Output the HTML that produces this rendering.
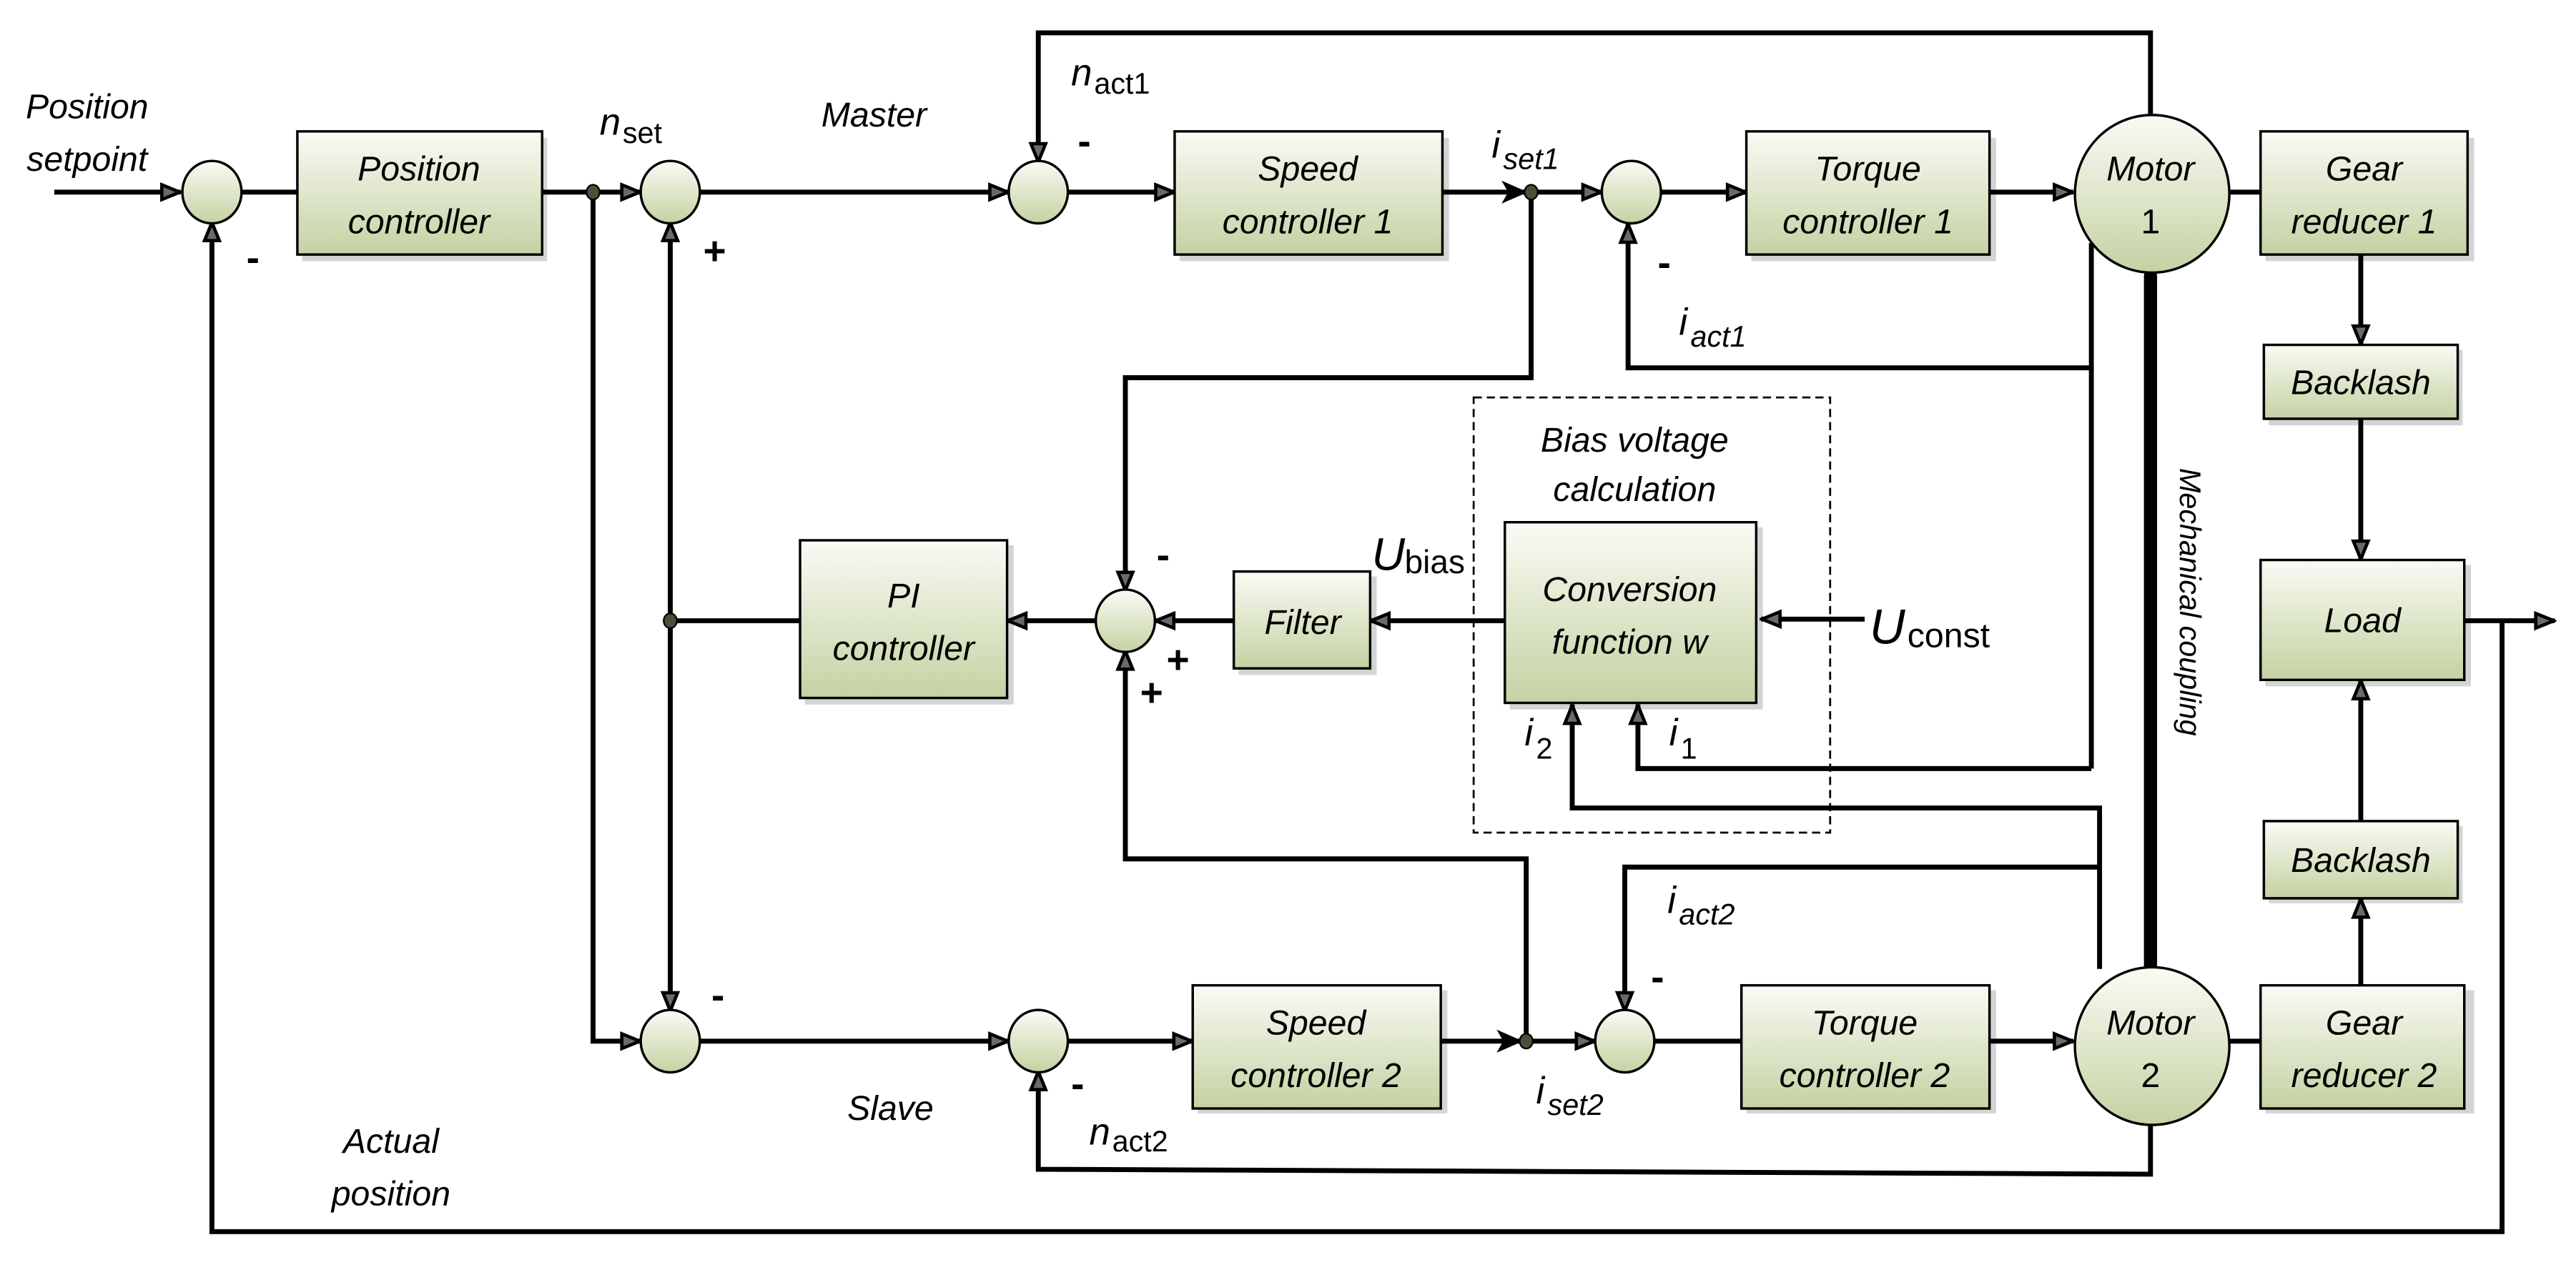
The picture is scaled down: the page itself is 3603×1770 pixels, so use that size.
<!DOCTYPE html>
<html><head><meta charset="utf-8"><style>
html,body{margin:0;padding:0;background:#fff;}
svg{display:block;}
text{font-family:"Liberation Sans",sans-serif;font-style:italic;fill:#000;}
.u{font-style:normal;}
</style></head><body>
<svg width="3603" height="1770" viewBox="0 0 1568 770.3" preserveAspectRatio="none" xmlns="http://www.w3.org/2000/svg">
<defs>
<linearGradient id="g" x1="0" y1="0" x2="0" y2="1"><stop offset="0" stop-color="#fafbf5"/><stop offset="1" stop-color="#c4d2a2"/></linearGradient>
<marker id="a" viewBox="0 0 14 12" refX="13" refY="6" markerWidth="14" markerHeight="12" markerUnits="userSpaceOnUse" orient="auto"><path d="M1.5,1.5 L12.5,6 L1.5,10.5 Z" fill="#6a6a6a" stroke="#000" stroke-width="2"/></marker>
<marker id="f" viewBox="0 0 16 14" refX="15" refY="7" markerWidth="16" markerHeight="14" markerUnits="userSpaceOnUse" orient="auto"><path d="M0,0 L16,7 L0,14 L4,7 Z" fill="#000"/></marker>
</defs>
<rect width="1568" height="771" fill="#fff"/>
<g fill="#d4d4d4">
<rect x="184" y="84" width="149" height="75"/><rect x="718" y="84" width="164" height="75"/><rect x="1066" y="84" width="149" height="75"/><rect x="1379" y="84" width="127" height="75"/>
<rect x="1381" y="213" width="118" height="46"/><rect x="1379" y="344" width="125" height="74"/><rect x="1381" y="503" width="118" height="47"/>
<rect x="490" y="332" width="127" height="97"/><rect x="754" y="351" width="84" height="60"/><rect x="919" y="321" width="154" height="111"/>
<rect x="729" y="603" width="152" height="75"/><rect x="1063" y="603" width="152" height="75"/><rect x="1379" y="603" width="127" height="75"/>
</g>
<g stroke="#000" stroke-width="3" fill="none">
<line x1="33" y1="117" x2="110" y2="117" marker-end="url(#a)"/>
<line x1="147" y1="117" x2="181" y2="117"/>
<line x1="330" y1="117" x2="390" y2="117" marker-end="url(#a)"/>
<line x1="426" y1="117" x2="614" y2="117" marker-end="url(#a)"/>
<line x1="650" y1="117" x2="715" y2="117" marker-end="url(#a)"/>
<line x1="878" y1="117" x2="929" y2="117" marker-end="url(#f)"/>
<line x1="932" y1="117" x2="975" y2="117" marker-end="url(#a)"/>
<line x1="1011" y1="117" x2="1063" y2="117" marker-end="url(#a)"/>
<line x1="1211" y1="117" x2="1262" y2="117" marker-end="url(#a)"/>
<line x1="1357" y1="117" x2="1376" y2="117"/>
<polyline points="1309,70 1309,20 632,20 632,99" marker-end="url(#a)"/>
<polyline points="1500,378 1555,378" marker-end="url(#a)"/>
<polyline points="1523,378 1523,750 129,750 129,135" marker-end="url(#a)"/>
<polyline points="361,117 361,634 390,634" marker-end="url(#a)"/>
<line x1="408" y1="378" x2="408" y2="135" marker-end="url(#a)"/>
<line x1="408" y1="378" x2="408" y2="616" marker-end="url(#a)"/>
<line x1="408" y1="378" x2="487" y2="378"/>
<line x1="667" y1="378" x2="613" y2="378" marker-end="url(#a)"/>
<line x1="751" y1="378" x2="703" y2="378" marker-end="url(#a)"/>
<line x1="916" y1="378" x2="834" y2="378" marker-end="url(#a)"/>
<line x1="1135" y1="377" x2="1072" y2="377" marker-end="url(#a)"/>
<polyline points="932,117 932,230 685,230 685,360" marker-end="url(#a)"/>
<polyline points="929,634 929,523 685,523 685,396" marker-end="url(#a)"/>
<polyline points="1273,148 1273,468"/>
<polyline points="1273,224 991,224 991,136" marker-end="url(#a)"/>
<polyline points="1273,468 997,468 997,429" marker-end="url(#a)"/>
<polyline points="1278,590 1278,492 957,492 957,429" marker-end="url(#a)"/>
<line x1="1437" y1="155" x2="1437" y2="210" marker-end="url(#a)"/>
<line x1="1437" y1="255" x2="1437" y2="341" marker-end="url(#a)"/>
<line x1="1437" y1="600" x2="1437" y2="547" marker-end="url(#a)"/>
<line x1="1437" y1="500" x2="1437" y2="414" marker-end="url(#a)"/>
<line x1="426" y1="634" x2="614" y2="634" marker-end="url(#a)"/>
<line x1="650" y1="634" x2="726" y2="634" marker-end="url(#a)"/>
<line x1="877" y1="634" x2="926" y2="634" marker-end="url(#f)"/>
<line x1="929" y1="634" x2="971" y2="634" marker-end="url(#a)"/>
<line x1="1007" y1="634" x2="1060" y2="634"/>
<line x1="1211" y1="634" x2="1262" y2="634" marker-end="url(#a)"/>
<line x1="1357" y1="634" x2="1376" y2="634"/>
<polyline points="1278,528 989,528 989,616" marker-end="url(#a)"/>
<polyline points="1309,685 1309,715 632,712 632,652" marker-end="url(#a)"/>
</g>
<line x1="1309" y1="168" x2="1309" y2="590" stroke="#000" stroke-width="8" stroke-linecap="round"/>
<rect x="897" y="242" width="217" height="265" fill="none" stroke="#000" stroke-width="1.2" stroke-dasharray="5,3"/>
<g stroke="#000" stroke-width="1.5" fill="url(#g)">
<rect x="181" y="80" width="149" height="75"/><rect x="715" y="80" width="163" height="75"/><rect x="1063" y="80" width="148" height="75"/><rect x="1376" y="80" width="126" height="75"/>
<rect x="1378" y="210" width="118" height="45"/><rect x="1376" y="341" width="124" height="73"/><rect x="1378" y="500" width="118" height="47"/>
<rect x="487" y="329" width="126" height="96"/><rect x="751" y="348" width="83" height="59"/><rect x="916" y="318" width="153" height="110"/>
<rect x="726" y="600" width="151" height="75"/><rect x="1060" y="600" width="151" height="75"/><rect x="1376" y="600" width="124" height="75"/>
<ellipse cx="129" cy="117" rx="18" ry="19"/><ellipse cx="408" cy="117" rx="18" ry="19"/><ellipse cx="632" cy="117" rx="18" ry="19"/><ellipse cx="993" cy="117" rx="18" ry="19"/>
<ellipse cx="685" cy="378" rx="18" ry="19"/><ellipse cx="408" cy="634" rx="18" ry="19"/><ellipse cx="632" cy="634" rx="18" ry="19"/><ellipse cx="989" cy="634" rx="18" ry="19"/>
<ellipse cx="1310" cy="118" rx="47" ry="48"/><ellipse cx="1310" cy="637" rx="47" ry="48"/>
</g>
<g fill="#4a4f3a" stroke="#000" stroke-width="1">
<ellipse cx="361" cy="117" rx="4" ry="4.5"/><ellipse cx="932" cy="117" rx="4" ry="4.5"/><ellipse cx="408" cy="378" rx="4" ry="4.5"/><ellipse cx="929" cy="634" rx="4" ry="4.5"/>
</g>
<g font-size="21" text-anchor="middle">
<text x="255" y="110">Position</text><text x="255" y="142">controller</text>
<text x="796" y="110">Speed</text><text x="796" y="142">controller 1</text>
<text x="1137" y="110">Torque</text><text x="1137" y="142">controller 1</text>
<text x="1309" y="110">Motor</text><text x="1309" y="142" style="font-style:normal">1</text>
<text x="1439" y="110">Gear</text><text x="1439" y="142">reducer 1</text>
<text x="1437" y="240">Backlash</text>
<text x="1438" y="385">Load</text>
<text x="1437" y="531">Backlash</text>
<text x="550" y="370">PI</text><text x="550" y="402">controller</text>
<text x="793" y="386">Filter</text>
<text x="992" y="366">Conversion</text><text x="992" y="398">function w</text>
<text x="995" y="275">Bias voltage</text><text x="995" y="305">calculation</text>
<text x="801" y="630">Speed</text><text x="801" y="662">controller 2</text>
<text x="1135" y="630">Torque</text><text x="1135" y="662">controller 2</text>
<text x="1309" y="630">Motor</text><text x="1309" y="662" style="font-style:normal">2</text>
<text x="1439" y="630">Gear</text><text x="1439" y="662">reducer 2</text>
<text x="53" y="72">Position</text><text x="53" y="104">setpoint</text>
<text x="238" y="702">Actual</text><text x="238" y="734">position</text>
<text x="532" y="77">Master</text>
<text x="542" y="682">Slave</text>
</g>
<text x="1327" y="285" font-size="18" transform="rotate(90 1327 285)">Mechanical coupling</text>
<g font-size="23">
<text x="365" y="82">n</text><text x="379" y="87" font-size="18" style="font-style:normal">set</text>
<text x="652" y="52">n</text><text x="666" y="57" font-size="18" style="font-style:normal">act1</text>
<text x="663" y="697">n</text><text x="677" y="701" font-size="18" style="font-style:normal">act2</text>
<text x="908" y="96">i</text><text x="915" y="103" font-size="18">set1</text>
<text x="935" y="672">i</text><text x="942" y="679" font-size="18">set2</text>
<text x="1022" y="204">i</text><text x="1029" y="211" font-size="18">act1</text>
<text x="1015" y="556">i</text><text x="1022" y="563" font-size="18">act2</text>
<text x="928" y="454">i</text><text x="935" y="462" font-size="18" style="font-style:normal">2</text>
<text x="1016" y="454">i</text><text x="1023" y="462" font-size="18" style="font-style:normal">1</text>
<text x="835" y="347" font-size="28">U</text><text x="855" y="349" font-size="20" style="font-style:normal">bias</text>
<text x="1138" y="392" font-size="30">U</text><text x="1161" y="394" font-size="21" style="font-style:normal">const</text>
</g>
<g font-size="24" font-weight="bold" style="font-style:normal">
<text x="150" y="165" style="font-style:normal">-</text><text x="428" y="161" style="font-style:normal">+</text>
<text x="656" y="94" style="font-style:normal">-</text><text x="1009" y="168" style="font-style:normal">-</text>
<text x="704" y="346" style="font-style:normal">-</text><text x="710" y="410" style="font-style:normal">+</text><text x="694" y="430" style="font-style:normal">+</text>
<text x="433" y="614" style="font-style:normal">-</text><text x="652" y="668" style="font-style:normal">-</text><text x="1005" y="603" style="font-style:normal">-</text>
</g>
</svg>
</body></html>
